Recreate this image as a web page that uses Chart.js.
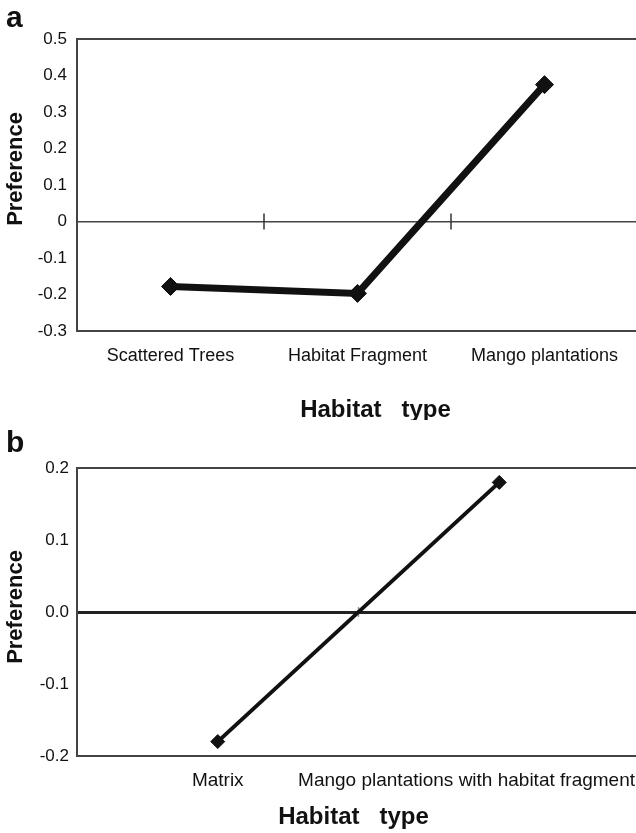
<!DOCTYPE html>
<html>
<head>
<meta charset="utf-8">
<script src="https://cdn.jsdelivr.net/npm/chart.js@4"></script>
<style>
  body { margin: 0; background: #fff; overflow: hidden; width: 636px; height: 833px; font-family: "Liberation Sans", Arial, sans-serif; }
  .panel { position: relative; width: 680px; }
  #panel-a { height: 420px; }
  #panel-b { height: 413px; }
  .tag { position: absolute; left: 6px; font-weight: bold; font-size: 30px; line-height: 30px; color: #111; }
</style>
</head>
<body>
<div class="panel" id="panel-a"><canvas id="chart-a"></canvas><div class="tag" style="top:2px">a</div></div>
<div class="panel" id="panel-b"><canvas id="chart-b"></canvas><div class="tag" style="top:7px">b</div></div>
<script>
// panel a
const CATS_A = ['Scattered Trees', 'Habitat Fragment', 'Mango plantations'];
const PREF_A = [-0.178, -0.197, 0.375];
const Y_MIN_A = -0.3, Y_MAX_A = 0.5;

// panel b
const CATS_B = ['Matrix', 'Mango plantations with habitat fragment'];
const PREF_B = [-0.18, 0.18];
const Y_MIN_B = -0.2, Y_MAX_B = 0.2;

const Y_STEP = 0.1;
const X_TITLE = 'Habitat   type';
const Y_TITLE = 'Preference';
const FONT = '"Liberation Sans", Arial, sans-serif';
const INK = '#111';

// category labels (kept inside the visible page), axis titles and the small ticks on the zero line
const habitatAxis = {
  id: 'habitatAxis',
  beforeDatasetsDraw(chart, args, opts) {
    const xs = chart.scales.x, ys = chart.scales.y;
    const y0 = ys.getPixelForValue(0);
    const ctx = chart.ctx;
    ctx.save();
    ctx.strokeStyle = opts.tickColor;
    ctx.lineWidth = 1.5;
    for (let i = 0; i < chart.data.labels.length - 1; i++) {
      const xm = (xs.getPixelForValue(i) + xs.getPixelForValue(i + 1)) / 2;
      ctx.beginPath();
      ctx.moveTo(xm, y0 - opts.tickLen);
      ctx.lineTo(xm, y0 + opts.tickLen);
      ctx.stroke();
    }
    ctx.restore();
  },
  afterDraw(chart, args, opts) {
    const xs = chart.scales.x;
    const area = chart.chartArea;
    const ctx = chart.ctx;
    ctx.save();
    ctx.textBaseline = 'middle';

    // category labels
    const y = area.bottom + opts.labelGap;
    ctx.font = opts.labelSize + 'px ' + FONT;
    ctx.fillStyle = INK;
    chart.data.labels.forEach((lab, i) => {
      const x = xs.getPixelForValue(i);
      const w = ctx.measureText(lab).width;
      if (x + w / 2 > opts.clipRight) {
        ctx.textAlign = 'right';
        ctx.fillText(lab, opts.clipRight, y);
      } else {
        ctx.textAlign = 'center';
        ctx.fillText(lab, x, y);
      }
    });

    // x title
    ctx.textAlign = 'center';
    ctx.font = 'bold 24px ' + FONT;
    ctx.fillText(X_TITLE, (area.left + area.right) / 2 + opts.xTitleDx, chart.height - opts.xTitleUp);

    // y title
    ctx.translate(16, (area.top + area.bottom) / 2 + opts.yTitleDy);
    ctx.rotate(-Math.PI / 2);
    ctx.font = 'bold 22px ' + FONT;
    ctx.fillText(Y_TITLE, 0, 0);
    ctx.restore();
  }
};

function makeChart(id, p) {
  const isZero = v => Math.abs(v) < 1e-9;
  return new Chart(document.getElementById(id), {
    type: 'line',
    data: {
      labels: p.cats,
      datasets: [{
        data: p.values,
        borderColor: INK,
        backgroundColor: INK,
        borderWidth: p.lineWidth,
        pointStyle: 'rectRot',
        pointRadius: p.pointRadius,
        pointBorderWidth: 1,
        tension: 0,
      }]
    },
    options: {
      responsive: true,
      maintainAspectRatio: false,
      animation: false,
      layout: { padding: { top: p.top, right: p.right, left: 0, bottom: 0 } },
      plugins: {
        legend: { display: false },
        tooltip: { enabled: false },
        habitatAxis: {
          labelGap: 25, labelSize: p.labelSize, clipRight: 635,
          tickLen: p.tickLen, tickColor: p.tickColor,
          xTitleDx: p.xTitleDx, xTitleUp: p.xTitleUp, yTitleDy: p.yTitleDy,
        },
      },
      scales: {
        x: {
          offset: true,
          grid: { display: false },
          border: { display: false },
          ticks: { display: false },
          afterFit: s => { s.height = p.xHeight; },
        },
        y: {
          min: p.min,
          max: p.max,
          ticks: {
            stepSize: Y_STEP,
            padding: p.tickPad,
            color: INK,
            font: { family: FONT, size: 17 },
            callback: v => isZero(v) ? p.zeroText : v.toFixed(1),
          },
          border: { display: true, color: '#444', width: 2 },
          grid: {
            drawTicks: false,
            color: c => isZero(c.tick.value) ? p.zeroColor
              : (Math.abs(c.tick.value - p.min) < 1e-9 || Math.abs(c.tick.value - p.max) < 1e-9) ? '#444' : 'rgba(0,0,0,0)',
            lineWidth: c => isZero(c.tick.value) ? p.zeroWidth : 2,
          },
          afterFit: s => { s.width = 77; },
        }
      }
    },
    plugins: [habitatAxis]
  });
}

makeChart('chart-a', {
  cats: CATS_A, values: PREF_A, min: Y_MIN_A, max: Y_MAX_A, zeroText: '0',
  lineWidth: 7, pointRadius: 9, top: 39, right: 42, xHeight: 89,
  labelSize: 18, tickPad: 10, tickLen: 8, tickColor: '#333',
  zeroColor: '#444', zeroWidth: 1.5,
  xTitleDx: 18, xTitleUp: 10, yTitleDy: -16,
});

makeChart('chart-b', {
  cats: CATS_B, values: PREF_B, min: Y_MIN_B, max: Y_MAX_B, zeroText: '0.0',
  lineWidth: 4, pointRadius: 7, top: 48, right: 40, xHeight: 77,
  labelSize: 19, tickPad: 8, tickLen: 5, tickColor: '#999',
  zeroColor: '#222', zeroWidth: 3,
  xTitleDx: -5, xTitleUp: 16, yTitleDy: -5,
});
</script>
</body>
</html>
